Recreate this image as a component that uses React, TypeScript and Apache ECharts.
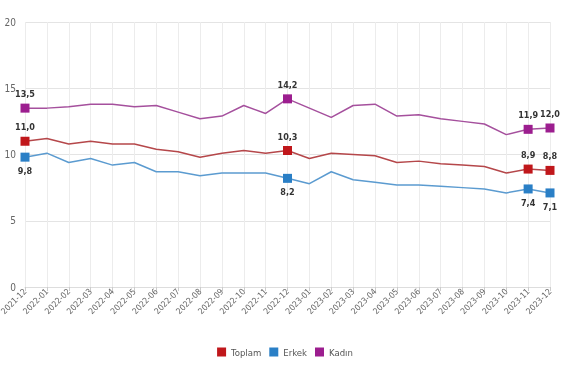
import React, { useEffect, useRef } from "react";
import * as echarts from "echarts";

const categories = [
  "2021-12", "2022-01", "2022-02", "2022-03", "2022-04", "2022-05", "2022-06",
  "2022-07", "2022-08", "2022-09", "2022-10", "2022-11", "2022-12", "2023-01",
  "2023-02", "2023-03", "2023-04", "2023-05", "2023-06", "2023-07", "2023-08",
  "2023-09", "2023-10", "2023-11", "2023-12",
];

const toplam = [11.0, 11.2, 10.8, 11.0, 10.8, 10.8, 10.4, 10.2, 9.8, 10.1, 10.3, 10.1, 10.3, 9.7, 10.1, 10.0, 9.9, 9.4, 9.5, 9.3, 9.2, 9.1, 8.6, 8.9, 8.8];
const erkek = [9.8, 10.1, 9.4, 9.7, 9.2, 9.4, 8.7, 8.7, 8.4, 8.6, 8.6, 8.6, 8.2, 7.8, 8.7, 8.1, 7.9, 7.7, 7.7, 7.6, 7.5, 7.4, 7.1, 7.4, 7.1];
const kadin = [13.5, 13.5, 13.6, 13.8, 13.8, 13.6, 13.7, 13.2, 12.7, 12.9, 13.7, 13.1, 14.2, 13.5, 12.8, 13.7, 13.8, 12.9, 13.0, 12.7, 12.5, 12.3, 11.5, 11.9, 12.0];

const markedIndices = [0, 12, 23, 24];
const yTicks = { min: 0, max: 20, interval: 5 };

const NARROW = "'Liberation Sans Narrow', 'DejaVu Sans Condensed', 'Liberation Sans', Arial, sans-serif";

function buildData(values: number[], color: string, pos: "top" | "bottom") {
  return values.map((v, i) =>
    markedIndices.includes(i)
      ? {
          value: v,
          symbolSize: 9,
          itemStyle: { color },
          label: {
            show: true,
            position: pos,
            distance: 5,
            formatter: (p: any) => Number(p.value).toFixed(1).replace(".", ","),
          },
        }
      : { value: v, symbolSize: 0 }
  );
}

export default function App() {
  const ref = useRef<HTMLDivElement>(null);
  useEffect(() => {
    if (!ref.current) return;
    const chart = echarts.init(ref.current, undefined, { renderer: "svg" });
    const labelStyle = {
      color: "#333",
      fontSize: 9,
      fontWeight: "bold" as const,
      fontFamily: NARROW,
    };
    const mk = (name: string, values: number[], lineColor: string, markColor: string, pos: "top" | "bottom") => ({
      name,
      type: "line",
      data: buildData(values, markColor, pos),
      symbol: "rect",
      showAllSymbol: true,
      lineStyle: { color: lineColor, width: 1.5 },
      itemStyle: { color: markColor },
      label: labelStyle,
      emphasis: { disabled: true },
      z: 2,
    });
    chart.setOption({
      animation: false,
      grid: { left: 25, right: 20, top: 22, bottom: 93, outerBoundsMode: "none", containLabel: false },
      legend: {
        bottom: 18,
        left: "center",
        icon: "rect",
        itemWidth: 9,
        itemHeight: 9,
        itemGap: 8,
        textStyle: { color: "#555", fontSize: 9.5, fontFamily: NARROW },
        data: [
          { name: "Toplam", itemStyle: { color: "#c0171b" } },
          { name: "Erkek", itemStyle: { color: "#2a7fc6" } },
          { name: "Kadın", itemStyle: { color: "#9c1e8f" } },
        ],
      },
      xAxis: {
        type: "category",
        data: categories,
        boundaryGap: false,
        axisLine: { show: true, lineStyle: { color: "#ddd" } },
        axisTick: { show: true, length: 4, lineStyle: { color: "#ccc" } },
        axisLabel: {
          rotate: 45,
          color: "#666",
          fontSize: 8.5,
          margin: 3,
          interval: 0,
          fontFamily: NARROW,
        },
        splitLine: { show: true, lineStyle: { color: "#ececec" } },
      },
      yAxis: {
        type: "value",
        min: yTicks.min,
        max: yTicks.max,
        interval: yTicks.interval,
        axisLine: { show: false },
        axisTick: { show: false },
        axisLabel: { color: "#666", fontSize: 10, margin: 9, fontFamily: NARROW },
        splitLine: { show: true, lineStyle: { color: "#e4e4e4" } },
      },
      series: [
        mk("Toplam", toplam, "#b5474a", "#c0171b", "top"),
        mk("Erkek", erkek, "#5b9bd0", "#2a7fc6", "bottom"),
        mk("Kadın", kadin, "#a5509d", "#9c1e8f", "top"),
      ],
    });
    return () => chart.dispose();
  }, []);
  return (
    <div style={{ position: "fixed", left: 0, top: 0 }}>
      <div ref={ref} style={{ width: 570, height: 380 }} />
    </div>
  );
}
